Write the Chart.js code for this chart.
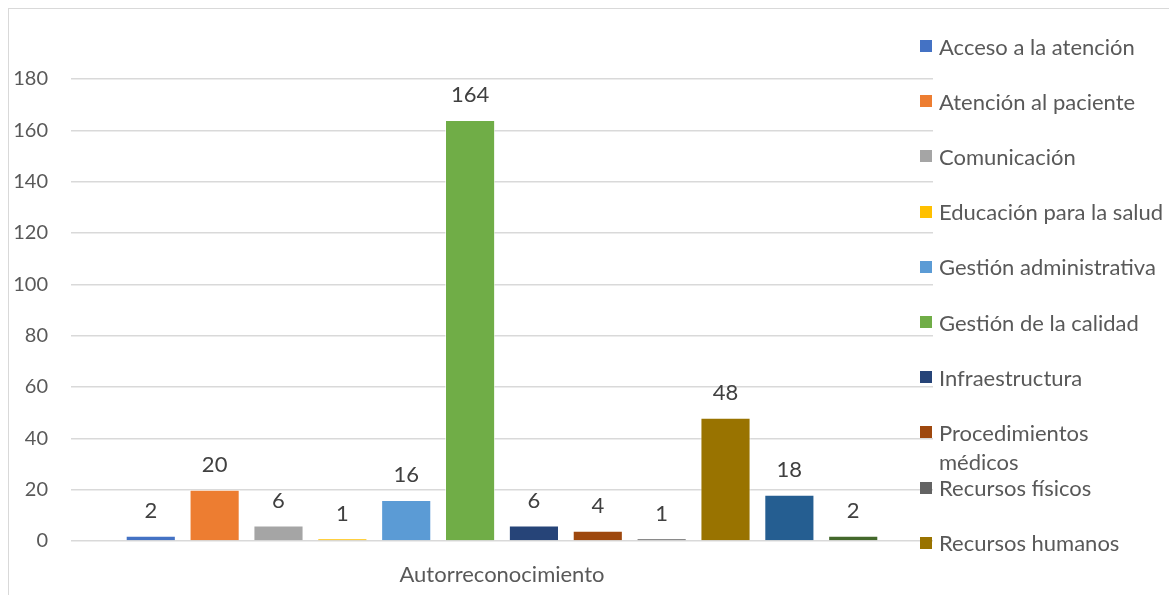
<!DOCTYPE html>
<html>
<head>
<meta charset="utf-8">
<script src="https://cdn.jsdelivr.net/npm/chart.js@4.4.1/dist/chart.umd.min.js"></script>
<style>
  body { margin: 0; background: #fff; }
  #wrap { position: relative; width: 1169px; height: 595px; overflow: hidden; font-family: Lato, sans-serif; }
  #frame { position: absolute; left: 8px; top: 8px; width: 1400px; height: 800px; border: 1.5px solid #d9d9d9; }
  #chart { position: absolute; left: 0; top: 0; }
  .sq { position: absolute; left: 920px; width: 12px; height: 12px; }
  .lbl { position: absolute; left: 939px; width: 230px; font-size: 22px; line-height: 29px; color: #595959; }
</style>
</head>
<body>
<div id="wrap">
  <div id="frame"></div>
  <canvas id="chart" width="1169" height="595"></canvas>
  <div id="legend"></div>
</div>
<script>
const categories = ["Autorreconocimiento"];
const seriesNames = [
  "Acceso a la atención", "Atención al paciente", "Comunicación", "Educación para la salud",
  "Gestión administrativa", "Gestión de la calidad", "Infraestructura", "Procedimientos médicos",
  "Recursos físicos", "Recursos humanos", "Serie 11", "Serie 12"
];
const seriesValues = [2, 20, 6, 1, 16, 164, 6, 4, 1, 48, 18, 2];
const seriesColors = [
  "#4472C4", "#ED7D31", "#A5A5A5", "#FFC000", "#5B9BD5", "#70AD47",
  "#264478", "#9E480E", "#636363", "#997300", "#255E91", "#43682B"
];
const yTicks = [0, 20, 40, 60, 80, 100, 120, 140, 160, 180];
const legendCount = 10; // only the first ten fit in the original legend

// value labels above each bar
const valueLabels = {
  id: 'valueLabels',
  afterDatasetsDraw(chart) {
    const ctx = chart.ctx;
    ctx.save();
    ctx.font = '22px Lato';
    ctx.fillStyle = '#404040';
    ctx.textAlign = 'center';
    ctx.textBaseline = 'middle';
    chart.data.datasets.forEach((ds, i) => {
      chart.getDatasetMeta(i).data.forEach((bar, j) => {
        ctx.fillText(ds.data[j], bar.x, bar.y - 25);
      });
    });
    ctx.restore();
  }
};

const datasets = seriesNames.map((name, i) => ({
  label: name,
  data: [seriesValues[i]],
  backgroundColor: seriesColors[i],
  borderColor: 'rgba(255,255,255,0.6)',
  borderWidth: 1,
  categoryPercentage: 0.889,
  barPercentage: 0.785
}));

const ctx = document.getElementById("chart");
new Chart(ctx, {
  type: 'bar',
  data: { labels: categories, datasets: datasets },
  options: {
    responsive: false,
    animation: false,
    layout: { padding: { top: 79, right: 236, left: 0, bottom: 0 } },
    plugins: { legend: { display: false }, tooltip: { enabled: false } },
    scales: {
      x: {
        grid: { display: false, tickLength: 0 },
        border: { display: false },
        ticks: { color: '#595959', font: { family: 'Lato', size: 22 }, padding: 21 },
        afterFit: (axis) => { axis.height = 54; }
      },
      y: {
        min: yTicks[0],
        max: yTicks[yTicks.length - 1],
        afterBuildTicks: (axis) => { axis.ticks = yTicks.map(v => ({ value: v })); },
        grid: { color: '#d9d9d9', lineWidth: 1.5, drawTicks: false, tickLength: 0 },
        border: { display: false },
        ticks: { color: '#595959', font: { family: 'Lato', size: 20 }, padding: 23 },
        afterFit: (axis) => { axis.width = 71; }
      }
    }
  },
  plugins: [valueLabels]
});

// legend drawn as html next to the plot
const legend = document.getElementById("legend");
for (let i = 0; i < legendCount; i++) {
  const cy = 46 + i * 55.2;
  const sq = document.createElement("div");
  sq.className = "sq";
  sq.style.top = (cy - 6) + "px";
  sq.style.background = seriesColors[i];
  const lbl = document.createElement("div");
  lbl.className = "lbl";
  lbl.style.top = (cy - 14.5) + "px";
  lbl.textContent = seriesNames[i];
  legend.appendChild(sq);
  legend.appendChild(lbl);
}
</script>
</body>
</html>
